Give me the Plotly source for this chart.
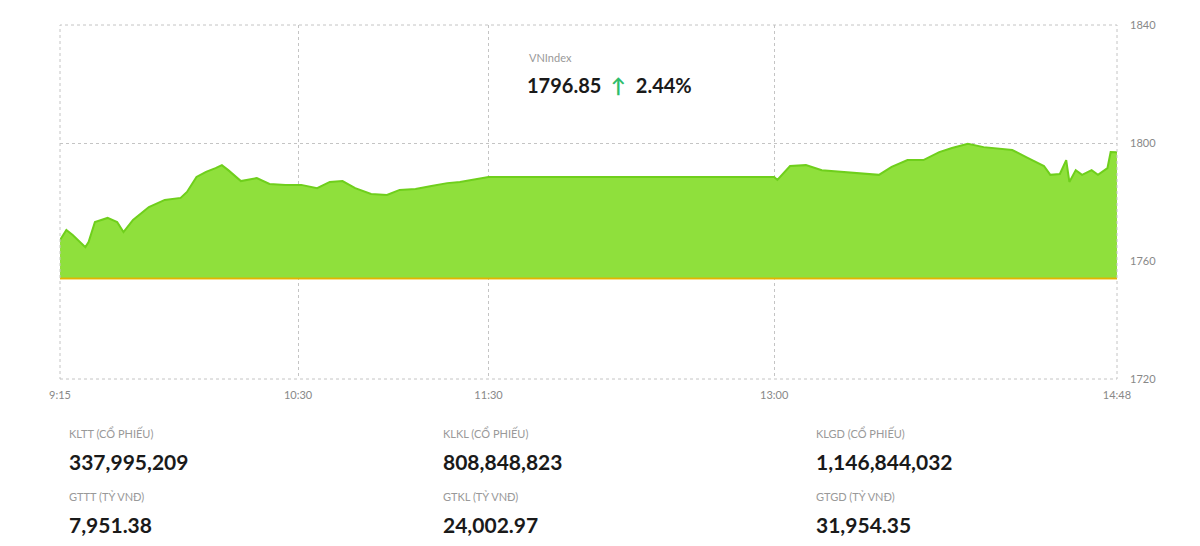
import plotly.graph_objects as go

DAY = "2025-08-25 "
times = ["09:15","09:17","09:19","09:23","09:24","09:26","09:30","09:33","09:35","09:38","09:43","09:48","09:53","09:55","09:58","10:01","10:04","10:06","10:08","10:12","10:17","10:21","10:26","10:31","10:36","10:40","10:44","10:48","10:53","10:58","11:02","11:07","11:12","11:17","11:21","11:26","11:30",
         "13:00","13:01","13:05","13:10","13:15","13:21","13:28","13:33","13:37","13:42","13:47","13:52","13:56","14:01","14:06","14:11","14:15","14:20","14:25","14:27","14:30","14:32","14:33","14:35","14:37","14:40","14:42","14:45","14:46","14:48"]
values = [1767.1,1770.5,1768.8,1764.7,1766.4,1773.2,1774.6,1773.2,1769.8,1773.9,1778.3,1780.7,1781.4,1783.4,1788.5,1790.2,1791.5,1792.5,1790.8,1787.1,1788.1,1786.1,1785.8,1785.8,1784.7,1786.8,1787.1,1784.7,1782.7,1782.4,1784.1,1784.4,1785.4,1786.4,1786.8,1787.8,1788.5,
          1788.5,1787.5,1792.2,1792.5,1790.8,1790.2,1789.5,1789.2,1791.9,1794.2,1794.2,1796.9,1798.3,1799.7,1798.6,1798.0,1797.6,1794.9,1792.2,1789.2,1789.5,1794.2,1786.8,1790.8,1789.2,1790.8,1789.2,1791.5,1796.9,1796.85]
prev_close = 1754.06
tick_times = ["09:15","10:30","11:30","13:00","14:48"]
tick_labels = ["9:15","10:30","11:30","13:00","14:48"]
y_ticks = [1720,1760,1800,1840]

stats_labels = ["KLTT (CỔ PHIẾU)","KLKL (CỔ PHIẾU)","KLGD (CỔ PHIẾU)","GTTT (TỶ VNĐ)","GTKL (TỶ VNĐ)","GTGD (TỶ VNĐ)"]
stats_values = ["337,995,209","808,848,823","1,146,844,032","7,951.38","24,002.97","31,954.35"]

PL, PR, PT, PB = 60, 1117, 25, 379
def px(x): return (x - PL) / (PR - PL)
def py(y): return 1 - (y - PT) / (PB - PT)

xs = [DAY + t for t in times]
fig = go.Figure()
fig.add_trace(go.Scatter(x=[xs[0], xs[-1]], y=[prev_close, prev_close], mode="lines",
                         line=dict(color="#e3b400", width=1.5), hoverinfo="skip"))
fig.add_trace(go.Scatter(x=xs, y=values, mode="lines", fill="tonexty",
                         fillcolor="#8fe03c", line=dict(color="#6fcf1c", width=2)))
fig.add_trace(go.Scatter(x=[xs[0], xs[-1]], y=[prev_close, prev_close], mode="lines",
                         line=dict(color="#e3b400", width=1.5), hoverinfo="skip"))

font = "Lato, Open Sans, sans-serif"
fig.update_layout(
    width=1200, height=546, showlegend=False, plot_bgcolor="white", paper_bgcolor="white",
    margin=dict(l=PL-8, r=1200-(PR-8), t=PT-8, b=546-(PB-8), autoexpand=False),
    xaxis=dict(range=[xs[0], xs[-1]], tickvals=[DAY + t for t in tick_times], ticktext=tick_labels,
               showgrid=True, gridcolor="#c4c4c4", griddash="3px,3px", gridwidth=1, zeroline=False,
               tickfont=dict(family=font, size=11, color="#888"), ticks="", ticklabelstandoff=8),
    yaxis=dict(range=[1720, 1840], tickvals=y_ticks, side="right", showgrid=True, gridcolor="#c4c4c4",
               griddash="3px,3px", zeroline=False, tickfont=dict(family=font, size=11, color="#888"),
               ticklabelstandoff=12),
    shapes=[dict(type="rect", xref="paper", yref="paper", x0=0, x1=1, y0=0, y1=1,
                 line=dict(color="#c4c4c4", width=1, dash="3px,3px"))],
)
fig.add_annotation(xref="paper", yref="paper", x=px(527), y=py(58), text="VNIndex", yanchor="middle",
                   showarrow=False, xanchor="left", font=dict(family=font, size=11, color="#999"))
fig.add_annotation(xref="paper", yref="paper", x=px(525), y=py(85), yanchor="middle",
                   text="<b>1796.85  <span style='color:#2ebd6b'>↑</span>  2.44%</b>",
                   showarrow=False, xanchor="left", font=dict(family=font, size=20, color="#1a1a1a"))
cols = [67, 441, 814]
for i, (lab, val) in enumerate(zip(stats_labels, stats_values)):
    cx = cols[i % 3]
    row = i // 3
    fig.add_annotation(xref="paper", yref="paper", x=px(cx), y=py(433 + row * 63), text=lab, yanchor="middle",
                       showarrow=False, xanchor="left", font=dict(family=font, size=11, color="#999"))
    fig.add_annotation(xref="paper", yref="paper", x=px(cx), y=py(461 + row * 63), text="<b>"+val+"</b>",
                       yanchor="middle", showarrow=False, xanchor="left",
                       font=dict(family=font, size=21, color="#1a1a1a"))
fig.write_html("out.html")
